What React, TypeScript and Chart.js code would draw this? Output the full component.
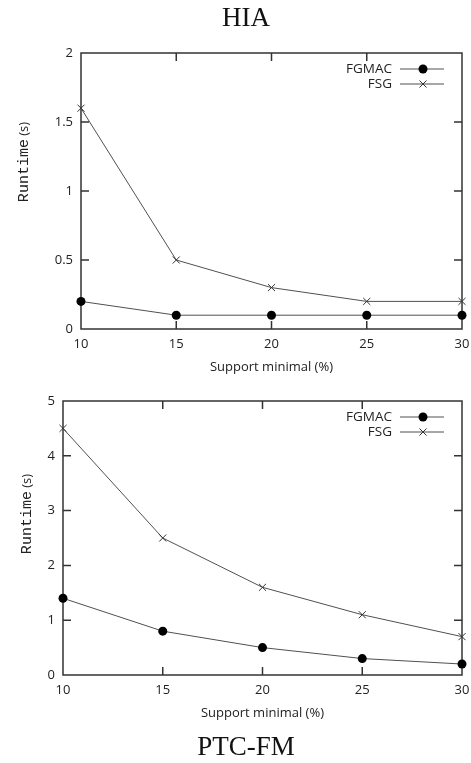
import React, { useEffect, useRef } from "react";
import { Chart, registerables } from "chart.js";

Chart.register(...registerables);

// ---------- data ----------
const supportLevels = [10, 15, 20, 25, 30];
const seriesNames = ["FGMAC", "FSG"];
const hiaFgmac = [0.2, 0.1, 0.1, 0.1, 0.1];
const hiaFsg = [1.6, 0.5, 0.3, 0.2, 0.2];
const ptcFgmac = [1.4, 0.8, 0.5, 0.3, 0.2];
const ptcFsg = [4.5, 2.5, 1.6, 1.1, 0.7];
const hiaTitle = "HIA";
const ptcTitle = "PTC-FM";
const xTitle = "Support minimal (%)";
const yTitleMain = "Runtime";
const yTitleUnit = " (s)";

const SANS = "'Open Sans', 'DejaVu Sans', sans-serif";
const MONO = "'Liberation Mono', 'DejaVu Sans Mono', monospace";
const SERIF = "'Liberation Serif', 'DejaVu Serif', serif";
const INK = "#222";
const LINE = "#505050";

function drawMarker(ctx: CanvasRenderingContext2D, style: string, x: number, y: number) {
  if (style === "circle") {
    ctx.beginPath();
    ctx.arc(x, y, 4.5, 0, Math.PI * 2);
    ctx.fillStyle = "#000";
    ctx.fill();
  } else {
    const r = 5 * Math.SQRT1_2;
    ctx.beginPath();
    ctx.moveTo(x - r, y - r);
    ctx.lineTo(x + r, y + r);
    ctx.moveTo(x - r, y + r);
    ctx.lineTo(x + r, y - r);
    ctx.strokeStyle = "#333";
    ctx.lineWidth = 1;
    ctx.stroke();
  }
}

const framePlugin = {
  id: "gnuplotFrame",
  beforeDatasetsDraw(chart: any) {
    const { ctx, chartArea: a, scales } = chart;
    const L = 8;
    const xs = scales.x;
    const ys = scales.y;
    ctx.save();
    ctx.strokeStyle = "#333";
    ctx.lineWidth = 1.5;
    ctx.beginPath();
    xs.ticks.forEach((t: any) => {
      const px = xs.getPixelForValue(t.value);
      if (px <= a.left + 1 || px >= a.right - 1) return;
      ctx.moveTo(px, a.bottom);
      ctx.lineTo(px, a.bottom - L);
      ctx.moveTo(px, a.top);
      ctx.lineTo(px, a.top + L);
    });
    ys.ticks.forEach((t: any) => {
      const py = ys.getPixelForValue(t.value);
      if (py <= a.top + 1 || py >= a.bottom - 1) return;
      ctx.moveTo(a.left, py);
      ctx.lineTo(a.left + L, py);
      ctx.moveTo(a.right, py);
      ctx.lineTo(a.right - L, py);
    });
    ctx.stroke();
    ctx.strokeRect(a.left, a.top, a.right - a.left, a.bottom - a.top);
    ctx.restore();
  },
};

const legendPlugin = {
  id: "insideLegend",
  afterDraw(chart: any) {
    const { ctx, chartArea: a } = chart;
    ctx.save();
    chart.data.datasets.forEach((ds: any, i: number) => {
      const y = a.top + 16 + i * 15;
      ctx.font = `13.5px ${SANS}`;
      ctx.fillStyle = INK;
      ctx.textAlign = "right";
      ctx.textBaseline = "middle";
      ctx.fillText(ds.label, a.right - 70, y);
      ctx.beginPath();
      ctx.moveTo(a.right - 62, y);
      ctx.lineTo(a.right - 18, y);
      ctx.strokeStyle = ds.borderColor;
      ctx.lineWidth = 1;
      ctx.stroke();
      drawMarker(ctx, ds.pointStyle, a.right - 39, y);
    });
    ctx.restore();
  },
};

const yTitlePlugin = {
  id: "yTitle",
  afterDraw(chart: any, _args: any, opts: any) {
    const { ctx } = chart;
    ctx.save();
    ctx.translate(opts.x, opts.y);
    ctx.rotate(-Math.PI / 2);
    const monoFont = `15px ${MONO}`;
    const sansFont = `13px ${SANS}`;
    ctx.font = monoFont;
    const w1 = ctx.measureText(yTitleMain).width;
    ctx.font = sansFont;
    const w2 = ctx.measureText(yTitleUnit).width;
    const x0 = -(w1 + w2) / 2;
    ctx.fillStyle = INK;
    ctx.textAlign = "left";
    ctx.textBaseline = "alphabetic";
    ctx.font = monoFont;
    ctx.fillText(yTitleMain, x0, 0);
    ctx.font = sansFont;
    ctx.fillText(yTitleUnit, x0 + w1, 0);
    ctx.restore();
  },
};

function makeConfig(
  fgmac: number[],
  fsg: number[],
  yMax: number,
  yStep: number,
  layoutTop: number,
  layoutBottom: number,
  yAxisWidth: number,
  yTitleAt: { x: number; y: number }
): any {
  const toPts = (vals: number[]) => supportLevels.map((x, i) => ({ x, y: vals[i] }));
  return {
    type: "line",
    data: {
      datasets: [
        {
          label: seriesNames[0],
          data: toPts(fgmac),
          borderColor: LINE,
          borderWidth: 1,
          pointStyle: "circle",
          pointRadius: 4.5,
          pointBackgroundColor: "#000",
          pointBorderColor: "#000",
          pointBorderWidth: 0,
          tension: 0,
          clip: false,
        },
        {
          label: seriesNames[1],
          data: toPts(fsg),
          borderColor: LINE,
          borderWidth: 1,
          pointStyle: "crossRot",
          pointRadius: 5,
          pointBackgroundColor: "#333",
          pointBorderColor: "#333",
          pointBorderWidth: 1,
          tension: 0,
          clip: false,
        },
      ],
    },
    options: {
      responsive: false,
      animation: false,
      layout: { padding: { left: 0, right: 9, top: layoutTop, bottom: layoutBottom } },
      plugins: {
        legend: { display: false },
        tooltip: { enabled: false },
        title: { display: false },
        yTitle: yTitleAt,
      },
      scales: {
        x: {
          type: "linear",
          min: 10,
          max: 30,
          ticks: {
            stepSize: 5,
            padding: 7,
            color: INK,
            font: { family: SANS, size: 13 },
            callback: (v: number) => String(v),
          },
          grid: { display: false, drawTicks: false },
          border: { display: false },
          title: {
            display: true,
            text: xTitle,
            color: INK,
            font: { family: SANS, size: 13, lineHeight: 1.2 },
            padding: { top: 0, bottom: 5 },
          },
          afterFit: (s: any) => {
            s.height = 51;
            s.paddingLeft = 0;
            s.paddingRight = 0;
          },
        },
        y: {
          type: "linear",
          min: 0,
          max: yMax,
          ticks: {
            stepSize: yStep,
            padding: 8,
            color: INK,
            font: { family: SANS, size: 13 },
            callback: (v: number) => String(v),
          },
          grid: { display: false, drawTicks: false },
          border: { display: false },
          afterFit: (s: any) => {
            s.width = yAxisWidth;
          },
        },
      },
    },
    plugins: [framePlugin, legendPlugin, yTitlePlugin],
  };
}

function ChartCanvas({ config, width, height }: { config: any; width: number; height: number }) {
  const ref = useRef<HTMLCanvasElement | null>(null);
  useEffect(() => {
    if (!ref.current) return;
    const chart = new Chart(ref.current, config);
    return () => chart.destroy();
  }, [config]);
  return <canvas ref={ref} width={width} height={height} style={{ display: "block", width, height }} />;
}

const topConfig = makeConfig(hiaFgmac, hiaFsg, 2, 0.5, 53, 0, 81, { x: 28, y: 162 });
const bottomConfig = makeConfig(ptcFgmac, ptcFsg, 5, 1, 21, 37, 63, { x: 31, y: 134 });

const titleStyle: React.CSSProperties = {
  position: "absolute",
  left: 146,
  width: 200,
  height: 34,
  lineHeight: "34px",
  textAlign: "center",
  fontFamily: SERIF,
  fontSize: 27,
  color: "#111",
  whiteSpace: "nowrap",
};

export default function App() {
  return (
    <div style={{ position: "absolute", left: 0, top: 0, width: 471, height: 763, background: "#fff" }}>
      <div style={{ position: "absolute", left: 0, top: 0 }}>
        <ChartCanvas config={topConfig} width={471} height={380} />
      </div>
      <div style={{ position: "absolute", left: 0, top: 380 }}>
        <ChartCanvas config={bottomConfig} width={471} height={383} />
      </div>
      <div style={{ ...titleStyle, top: 0 }}>{hiaTitle}</div>
      <div style={{ ...titleStyle, top: 729 }}>{ptcTitle}</div>
    </div>
  );
}
